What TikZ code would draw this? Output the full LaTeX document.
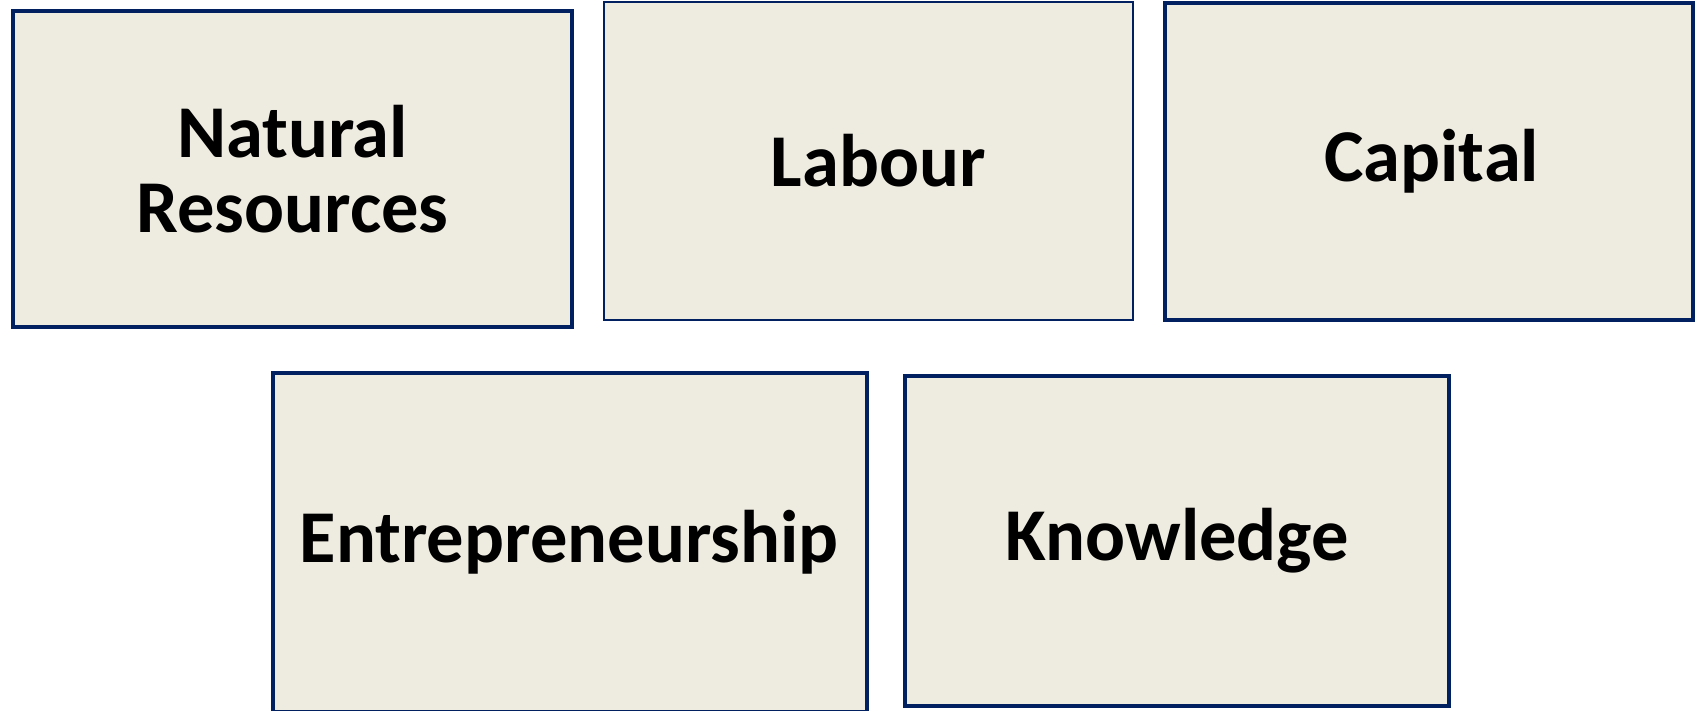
\documentclass[tikz,border=0pt]{standalone}
\usepackage{fontspec}
\setmainfont{Carlito}
\usepackage{xcolor}
\usetikzlibrary{positioning}
\definecolor{factornavy}{RGB}{0, 32, 96}
\definecolor{factortan}{RGB}{238, 236, 225}
\tikzset{factor/.style={draw=factornavy, fill=factortan, line width=2.85pt, rectangle, align=center, inner sep=0pt, font=\fontsize{53}{53}\selectfont\bfseries}}
\tikzset{factorthin/.style={factor, line width=1.4pt}}

\begin{document}
\begin{tikzpicture}[x=0.025cm, y=-0.025cm]
        \useasboundingbox (0, 0) rectangle (1695, 710);

        \node [factor, minimum width=13.975cm, minimum height=7.9cm]      (Nat) at (292.5, 169) { Natural\\Resources };
        \node [factorthin, minimum width=13.225cm, minimum height=7.95cm] (Lab) at (868.5, 161) { \hspace*{0.9cm}Labour };
        \node [factor, minimum width=13.2cm, minimum height=7.925cm]      (Cap) at (1429, 161.5) { \hspace*{0.55cm}Capital };

        \node [factor, minimum width=14.85cm, minimum height=8.475cm]     (Ent) at (570, 542.5) { \hspace*{0.38cm}Entrepreneurship };
        \node [factor, minimum width=13.6cm, minimum height=8.25cm]       (Kno) at (1177, 541) { \hspace*{0.43cm}Knowledge };
    \end{tikzpicture}
\end{document}
